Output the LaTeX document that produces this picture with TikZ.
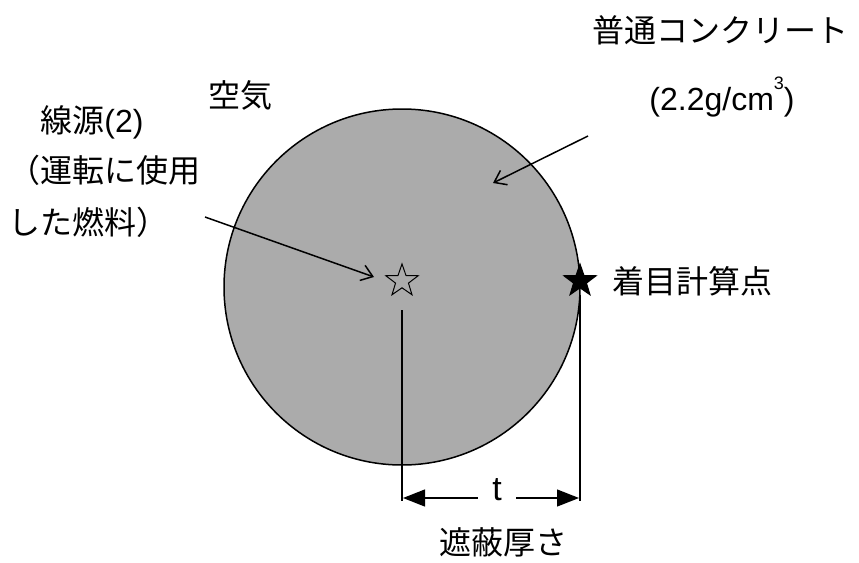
\documentclass[tikz,border=0pt]{standalone}
\usepackage{fontspec}
\setmainfont{Noto Sans CJK JP}
\newfontfamily\latin{Liberation Sans}
\usetikzlibrary{arrows.meta,shapes.geometric,positioning}

\begin{document}
\begin{tikzpicture}[x=1pt,y=-1pt,line width=1.5pt,
  lbl/.style={font=\fontsize{32}{36}\selectfont,inner sep=0pt},
  ptr/.style={-{Straight Barb[length=11pt,width=16pt]}},
  dim/.style={-{Triangle[length=22pt,width=17pt]},line width=1.3pt},
  pnt/.style={star,star points=5,star point ratio=2.5,minimum size=34pt,inner sep=0pt,draw,line width=1pt}]
\useasboundingbox (0,0) rectangle (859,562);
\node[circle,draw,fill=black!33,minimum size=356pt,inner sep=0pt] (shield) at (402,287) {};
\node[pnt] (src) at (402,281) {};
\node[pnt,fill=black] (tgt) at (580,281) {};
\node[lbl] (tgtlbl) [right=22pt of tgt] {着目計算点};

\node[lbl] (air) at (240,95) {空気};
\node[lbl] (conc) at (720,30) {普通コンクリート};
\node[lbl] (dens) at (722,97) {\latin (2.2g/cm\raisebox{0.65em}{\fontsize{18}{18}\selectfont 3})};
\node[lbl] (fuel1) at (92,122) {線源{\latin (2)}};
\node[lbl,anchor=west] (fuel2) at (8,170) {（運転に使用};
\node[lbl,anchor=west] (fuel3) at (8,222) {した燃料）};

\coordinate (concfrom) at (588,136);
\coordinate (concto) at (493,183);
\coordinate (fuelfrom) at (205,217);
\coordinate (fuelto) at (374,277);
\draw[ptr] (concfrom) -- (concto);
\draw[ptr] (fuelfrom) -- (fuelto);

\coordinate (srctop) at (402,310);
\coordinate (srcbot) at (402,501);
\coordinate (tgttop) at (580,295);
\coordinate (tgtbot) at (580,501);
\draw (srctop) -- (srcbot);
\draw (tgttop) -- (tgtbot);

\node[lbl,inner xsep=14pt,font=\fontsize{34}{36}\latin] (t) at (497,490) {t};
\coordinate (dl) at (403,498);
\coordinate (dr) at (579,498);
\draw[dim] (t.west |- dl) -- (dl);
\draw[dim] (t.east |- dr) -- (dr);
\node[lbl] (thick) at (503,542) {遮蔽厚さ};
\end{tikzpicture}
\end{document}
